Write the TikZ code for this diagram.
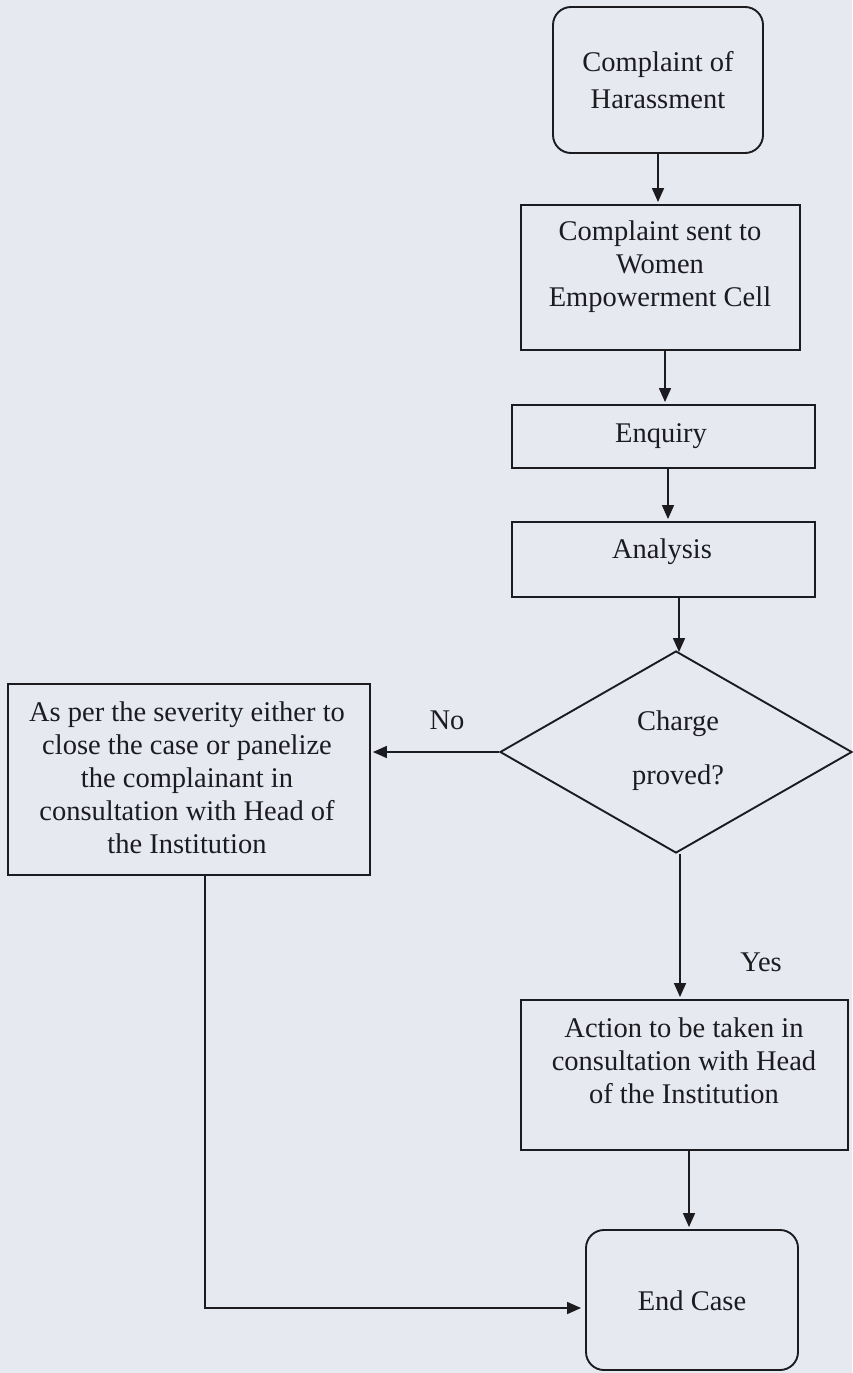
\documentclass[tikz,border=0pt]{standalone}
\usepackage{fontspec}
\setmainfont{Liberation Serif}
\usetikzlibrary{arrows.meta,shapes.geometric}
\definecolor{paper}{RGB}{231,233,240}
\definecolor{ink}{RGB}{28,28,32}
\begin{document}
\begin{tikzpicture}[x=1pt,y=-1pt,
  box/.style={draw=ink, line width=1.9pt, inner sep=0pt},
  rbox/.style={box, rounded corners=18pt},
  txt/.style={text=ink, align=center, inner sep=0pt, font=\fontsize{28.5}{33}\selectfont},
  arr/.style={draw=ink, line width=1.7pt, -{Triangle[length=14pt,width=12pt]}, shorten >=2pt}]
\fill[paper] (0,0) rectangle (852,1373);
\useasboundingbox (0,0) rectangle (852,1373);

% boxes
\node[rbox, minimum width=210pt, minimum height=146pt] (start) at (658,80) {};
\node[txt, font=\fontsize{28.5}{37}\selectfont] (startT) at (658,80) {Complaint of\\Harassment};

\node[box, minimum width=279pt, minimum height=145pt] (sent) at (660.5,277.5) {};
\node[txt] (sentT) at (660,267) {Complaint sent to\\Women\\Empowerment Cell};

\node[box, minimum width=303pt, minimum height=63pt] (enq) at (663.5,436.5) {};
\node[txt] (enqT) at (661,436) {Enquiry};

\node[box, minimum width=303pt, minimum height=75pt] (ana) at (663.5,559.5) {};
\node[txt] (anaT) at (662,552) {Analysis};

\node[diamond, draw=ink, line width=1.9pt, minimum width=352pt, minimum height=202pt, inner sep=0pt] (dec) at (676,752) {};
\node[txt] (decT) at (678,751) {Charge\\[21pt]proved?};

\node[box, minimum width=362pt, minimum height=191pt] (sev) at (189,779.5) {};
\node[txt] (sevT) at (187,778) {As per the severity either to\\close the case or panelize\\the complainant in\\consultation with Head of\\the Institution};

\node[box, minimum width=327pt, minimum height=150pt] (act) at (684.5,1075) {};
\node[txt] (actT) at (684,1061) {Action to be taken in\\consultation with Head\\of the Institution};

\node[rbox, minimum width=212pt, minimum height=140pt] (end) at (692,1300) {};
\node[txt] (endT) at (692,1301) {End Case};

% labels
\node[txt] (no) at (447,720) {No};
\node[txt] (yes) at (761,962) {Yes};

% connector columns
\coordinate (c2) at (665,0);
\coordinate (c3) at (668,0);
\coordinate (c4) at (679,0);
\coordinate (c5) at (680,0);
\coordinate (c6) at (689,0);
\coordinate (corner) at (205,1308);

\draw[arr] (start.south) -- (start.south |- sent.north);
\draw[arr] (c2 |- sent.south) -- (c2 |- enq.north);
\draw[arr] (c3 |- enq.south) -- (c3 |- ana.north);
\draw[arr] (c4 |- ana.south) -- ([yshift=-4pt]c4 |- dec.north);
\draw[arr] (dec.west) -- (dec.west -| sev.east);
\draw[arr] (c5 |- dec.south) -- (c5 |- act.north);
\draw[arr] (c6 |- act.south) -- (c6 |- end.north);
\draw[arr, shorten >=4pt] (corner |- sev.south) -- (corner) -- (corner -| end.west);
\end{tikzpicture}
\end{document}
